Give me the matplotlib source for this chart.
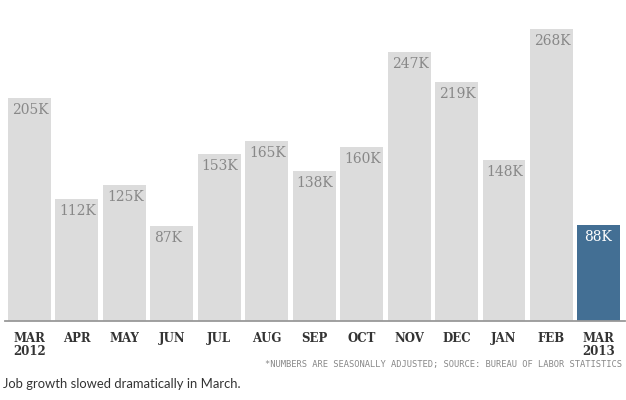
import matplotlib
matplotlib.use("Agg")
import matplotlib.pyplot as plt

# Monthly job gains (thousands), Mar 2012 - Mar 2013
months = ["MAR\n2012", "APR", "MAY", "JUN", "JUL", "AUG", "SEP",
          "OCT", "NOV", "DEC", "JAN", "FEB", "MAR\n2013"]
jobs = [205, 112, 125, 87, 153, 165, 138, 160, 247, 219, 148, 268, 88]
labels = ["205K", "112K", "125K", "87K", "153K", "165K", "138K",
          "160K", "247K", "219K", "148K", "268K", "88K"]

GRAY = "#dcdcdc"
BLUE = "#436f94"

fig = plt.figure(figsize=(6.26, 4.0), dpi=100)
ax = fig.add_axes([5 / 626, 79 / 400, 620 / 626, 321 / 400])

x = list(range(len(jobs)))
colors = [GRAY] * (len(jobs) - 1) + [BLUE]
ax.bar(x, jobs, width=0.905, color=colors, zorder=2)

for i, (v, lab) in enumerate(zip(jobs, labels)):
    last = i == len(jobs) - 1
    ax.annotate(lab, (i - 0.453, v), xytext=(7 if last else 4, -5),
                textcoords="offset pixels",
                ha="left", va="top", fontsize=10, family="DejaVu Serif",
                color="white" if last else "#888888")

ax.set_xlim(-0.516, 12.55)
ax.set_ylim(0, 294.5)
ax.set_xticks(x)
ax.set_xticklabels(months)
for t in ax.get_xticklabels():
    t.set_fontfamily("DejaVu Serif")
    t.set_fontweight("bold")
    t.set_fontsize(8.5)
    t.set_color("#333333")
    t.set_linespacing(0.95)
ax.tick_params(axis="x", length=0, pad=8)
ax.set_yticks([])
for s in ["top", "left", "right"]:
    ax.spines[s].set_visible(False)
ax.spines["bottom"].set_color("#999999")
ax.spines["bottom"].set_linewidth(1.3)
ax.spines["bottom"].set_zorder(3)

fig.text(622 / 626, 1 - 365 / 400,
         "*NUMBERS ARE SEASONALLY ADJUSTED; SOURCE: BUREAU OF LABOR STATISTICS",
         ha="right", va="center", fontsize=6.3, color="#888888",
         family="DejaVu Sans Mono")
fig.text(3 / 626, 1 - 384 / 400, "Job growth slowed dramatically in March.",
         ha="left", va="center", fontsize=9.4, color="#333333", family="Lato")

fig.savefig("out.png", dpi=100, facecolor="white")
